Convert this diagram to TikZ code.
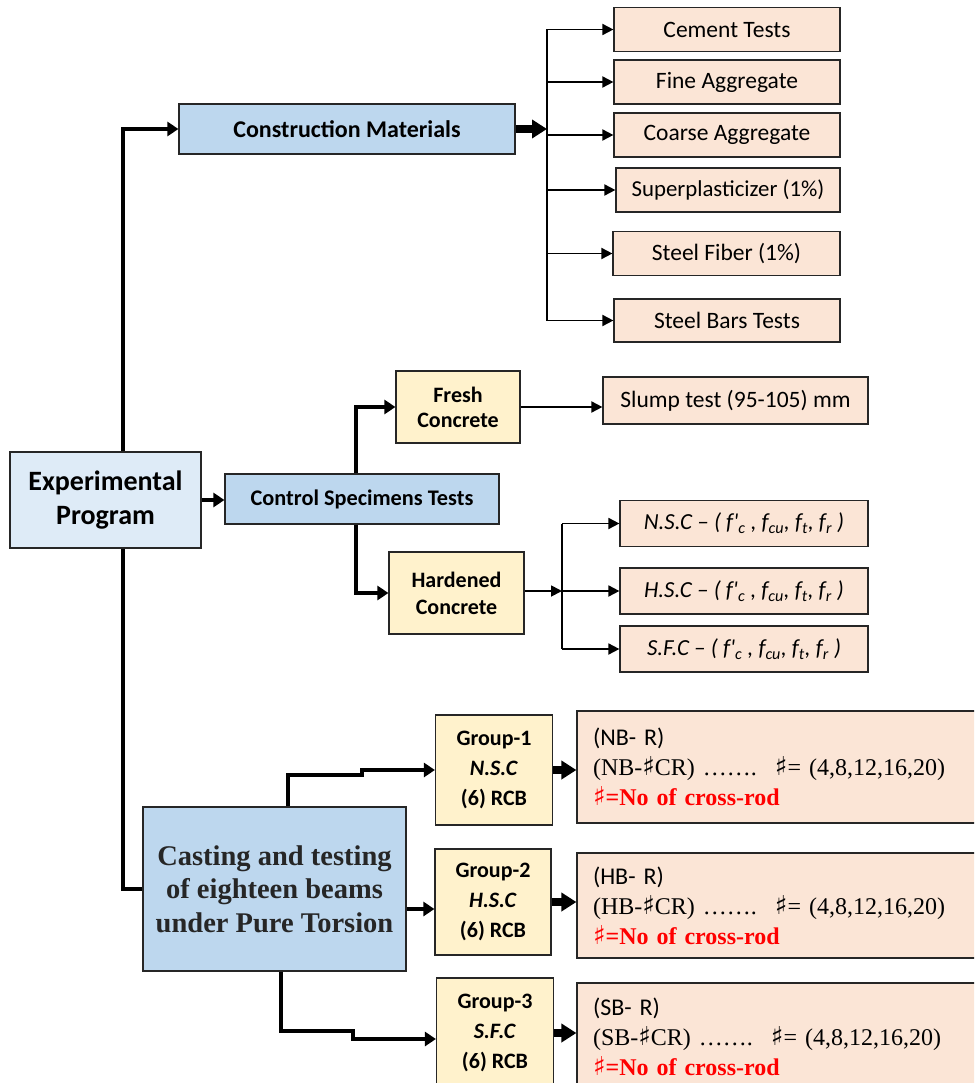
\documentclass[tikz,border=0pt]{standalone}
\usepackage{fontspec}
\setmainfont{Carlito}
\newfontfamily\timesf{Liberation Serif}
\newfontfamily\sharpf{DejaVu Sans}
\newcommand{\shp}{{\sharpf\bfseries\fontsize{26}{30}\selectfont ♯}}
\usetikzlibrary{arrows.meta}

\begin{document}
\begin{tikzpicture}[x=1pt, y=1pt,
    box/.style={draw=black!85, line width=1.2pt, inner sep=0pt, align=center},
    matbox/.style={box, fill=Peach, minimum width=226pt, minimum height=44pt, font=\fontsize{23.5}{28}\selectfont},
    testbox/.style={box, fill=Peach, minimum width=248pt, minimum height=46pt, font=\itshape\fontsize{23}{26}\selectfont},
    grpbox/.style={box, fill=Cream, minimum width=117pt, font=\bfseries\fontsize{22}{30}\selectfont},
    resbox/.style={box, fill=Peach, minimum width=408pt, text width=376pt, align=left, font=\fontsize{24}{30}\selectfont},
    arr/.style={-{Triangle[length=11pt,width=11pt]}, line width=1.8pt},
    arrthick/.style={-{Triangle[length=11pt,width=14pt]}, line width=4pt},
    arrfat/.style={-{Triangle[length=15pt,width=18pt]}, line width=8pt}
]

    % colours of the boxes
    \definecolor{ProgBlue}{RGB}{222, 235, 247}
    \definecolor{MainBlue}{RGB}{189, 215, 238}
    \definecolor{Cream}{RGB}{255, 242, 204}
    \definecolor{Peach}{RGB}{251, 229, 214}

    \useasboundingbox (0,0) rectangle (974,-1083);
    \clip (0,0) rectangle (974,-1083);

    % main boxes
    \node[box, fill=ProgBlue, minimum width=191pt, minimum height=96pt, font=\bfseries\fontsize{28}{34}\selectfont] (exp) at (105.5,-500) {Experimental\\Program};
    \node[box, fill=MainBlue, minimum width=336pt, minimum height=50pt, font=\bfseries\fontsize{24}{28}\selectfont] (cm) at (347,-129) {Construction Materials};
    \node[box, fill=MainBlue, minimum width=274pt, minimum height=50pt, font=\bfseries\fontsize{22.3}{26}\selectfont] (cst) at (362,-499) {Control Specimens Tests};
    \node[box, fill=MainBlue, minimum width=263pt, minimum height=164pt, text=black!85, font=\timesf\bfseries\fontsize{28.5}{33.5}\selectfont] (cast) at (274.5,-889) {Casting and testing\\of eighteen beams\\under Pure Torsion};

    % materials
    \node[matbox] (cement) at (727,-29.5) {Cement Tests};
    \node[matbox] (fine) at (727,-82) {Fine Aggregate};
    \node[matbox] (coarse) at (727,-135) {Coarse Aggregate};
    \node[matbox, minimum width=224pt, font=\fontsize{22.8}{26}\selectfont] (super) at (728,-190) {Superplasticizer (1\%)};
    \node[matbox, minimum width=227pt] (fiber) at (726.5,-253.5) {Steel Fiber (1\%)};
    \node[matbox, minimum height=43pt] (bars) at (727,-320.5) {Steel Bars Tests};

    % control specimens
    \node[box, fill=Cream, minimum width=124pt, minimum height=72pt, font=\bfseries\fontsize{22}{25}\selectfont] (fresh) at (458,-407) {Fresh\\Concrete};
    \node[box, fill=Cream, minimum width=135pt, minimum height=82pt, font=\bfseries\fontsize{22}{27}\selectfont] (hard) at (456.5,-593) {Hardened\\Concrete};
    \node[matbox, minimum width=265pt, minimum height=47pt, font=\fontsize{23.5}{26}\selectfont] (slump) at (735.5,-400.5) {Slump test (95-105) mm};
    \node[testbox] (nsc) at (744,-523.5) {N.S.C -- ( f\textquotesingle\textsubscript{c} , f\textsubscript{cu}, f\textsubscript{t}, f\textsubscript{r} )};
    \node[testbox] (hsc) at (744,-591) {H.S.C -- ( f\textquotesingle\textsubscript{c} , f\textsubscript{cu}, f\textsubscript{t}, f\textsubscript{r} )};
    \node[testbox] (sfc) at (744,-649) {S.F.C -- ( f\textquotesingle\textsubscript{c} , f\textsubscript{cu}, f\textsubscript{t}, f\textsubscript{r} )};

    % beam groups
    \node[grpbox, minimum height=110pt] (g1) at (494,-770) {Group-1\\\textit{N.S.C}\\(6) RCB};
    \node[grpbox, minimum width=116pt, minimum height=106pt] (g2) at (493,-902) {Group-2\\\textit{H.S.C}\\(6) RCB};
    \node[grpbox, minimum height=110pt] (g3) at (495,-1033) {Group-3\\\textit{S.F.C}\\(6) RCB};

    \node[resbox, minimum height=112pt] (r1) at (781,-767) {(NB- R)\\\timesf (NB-\shp CR) ……. \hspace{6pt}\shp= (4,8,12,16,20)\\\bfseries\color{red}\shp=No of cross-rod};
    \node[resbox, minimum height=105pt] (r2) at (781,-905.5) {(HB- R)\\\timesf (HB-\shp CR) ……. \hspace{6pt}\shp= (4,8,12,16,20)\\\bfseries\color{red}\shp=No of cross-rod};
    \node[resbox, minimum height=108pt] (r3) at (781,-1037) {(SB- R)\\\timesf (SB-\shp CR) ……. \hspace{6pt}\shp= (4,8,12,16,20)\\\bfseries\color{red}\shp=No of cross-rod};

    % trunk
    \draw[arrthick] ([xshift=17pt]exp.north) |- (cm.west);
    \draw[line width=4pt] ([xshift=17pt]exp.south) |- (cast.west);
    \draw[arrthick] (exp.east) -- (exp.east -| cst.west);

    % materials bus
    \coordinate (cmbus) at (547,-129);
    \draw[arrfat] (cm.east) -- (cmbus);
    \draw[line width=1.8pt] (cmbus |- cement.west) -- (cmbus |- bars.west);
    \foreach \m in {cement,fine,coarse,super,fiber,bars}
        \draw[arr] (cmbus |- \m.west) -- (\m.west);

    % control specimens
    \draw[arrthick] ([xshift=-6pt]cst.north) |- (fresh.west);
    \draw[arrthick] ([xshift=-6pt]cst.south) |- (hard.west);
    \draw[arr] (fresh.east) -- (fresh.east -| slump.west);

    \coordinate (hbus) at (562,-591);
    \draw[arr] (hard.east |- hbus) -- (hbus);
    \draw[line width=1.8pt] (hbus |- nsc.west) -- (hbus |- sfc.west);
    \foreach \m in {nsc,hsc,sfc}
        \draw[arr] (hbus |- \m.west) -- (\m.west);

    % beams
    \draw[arrthick] ([xshift=13.5pt]cast.north) -- ++(0,31) -- ++(74,0) |- (g1.west);
    \draw[arrthick] ([yshift=-20pt]cast.east) -- ([yshift=-20pt]cast.east -| g2.west);
    \draw[arrthick] ([xshift=6.5pt]cast.south) -- ++(0,-59) -- ++(72,0) |- ([yshift=-6pt]g3.west);
    \foreach \g/\r in {g1/r1, g2/r2, g3/r3}
        \draw[arrfat] (\g.east) -- (\g.east -| \r.west);

\end{tikzpicture}
\end{document}
